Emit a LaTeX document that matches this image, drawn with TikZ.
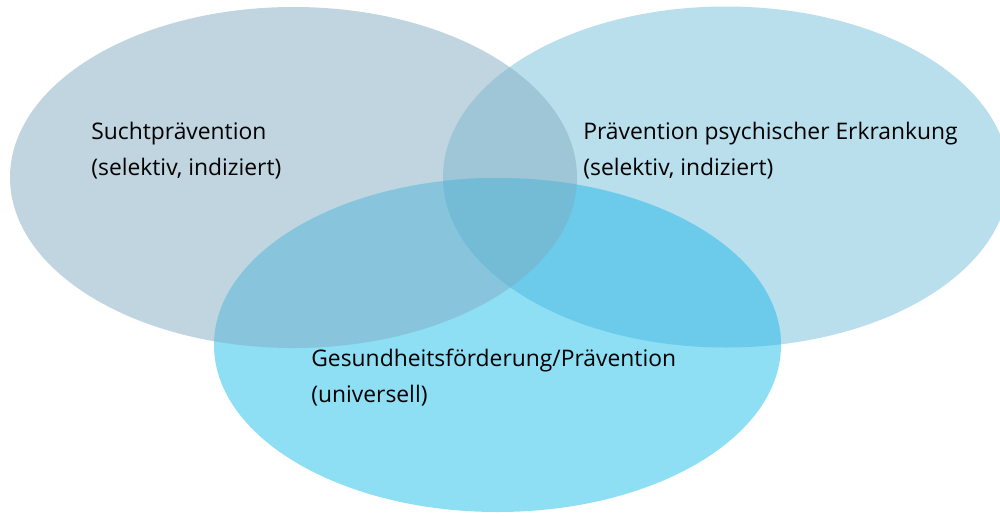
\documentclass[tikz,border=0pt]{standalone}
\usepackage{fontspec}
\setmainfont{Open Sans}
\usepackage{xcolor}
\usetikzlibrary{positioning}
\definecolor{suchtgrey}{RGB}{192,213,223}
\definecolor{psychblue}{RGB}{185,222,236}
\definecolor{gesundcyan}{RGB}{142,222,244}
\definecolor{suchtpsych}{RGB}{159,198,214}
\definecolor{suchtgesund}{RGB}{136,197,221}
\definecolor{psychgesund}{RGB}{108,203,234}
\definecolor{allthree}{RGB}{116,188,214}
\newcommand{\suchtset}{(5.87,-3.55) ellipse (5.67 and 3.41)}
\newcommand{\psychset}{(14.52,-3.54) ellipse (5.66 and 3.41)}
\newcommand{\gesundset}{(9.95,-6.90) ellipse (5.67 and 3.34)}
\tikzset{
	setlabel/.style={
		anchor=base west,
		align=left,
		inner sep=0pt,
		font=\fontsize{13}{20}\selectfont,
	},
}

\begin{document}
\begin{tikzpicture}
    \useasboundingbox (0,0) rectangle (20,-10.3);
    \clip (0,0) rectangle (20,-10.3);

    % the three sets
    \fill[suchtgrey] \suchtset;
    \fill[psychblue] \psychset;
    \fill[gesundcyan] \gesundset;

    % overlaps
    \begin{scope}
      \clip \suchtset;
      \fill[suchtpsych] \psychset;
      \fill[suchtgesund] \gesundset;
    \end{scope}
    \begin{scope}
      \clip \psychset;
      \fill[psychgesund] \gesundset;
    \end{scope}
    \begin{scope}
      \clip \suchtset;
      \clip \psychset;
      \fill[allthree] \gesundset;
    \end{scope}

    \node [setlabel] (sucht) at (1.82,-3.50)
      {Suchtprävention\\(selektiv, indiziert)};
    \node [setlabel] (psych) at (11.66,-3.50)
      {Prävention psychischer Erkrankung\\(selektiv, indiziert)};
    \node [setlabel] (gesund) at (6.22,-8.04)
      {Gesundheitsförderung/Prävention\\(universell)};
\end{tikzpicture}
\end{document}
